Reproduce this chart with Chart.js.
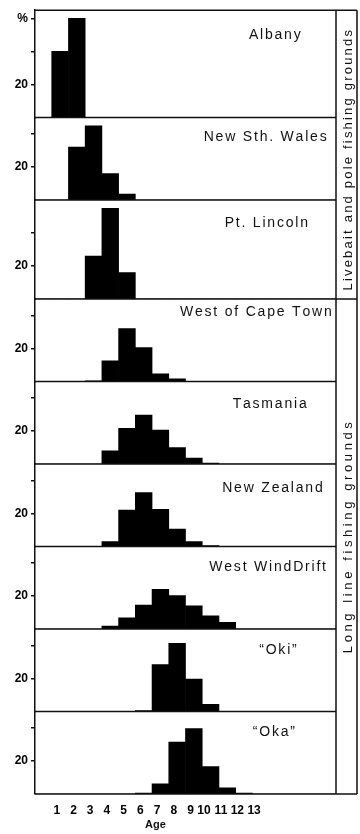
<!DOCTYPE html>
<html>
<head>
<meta charset="utf-8">
<script src="https://cdn.jsdelivr.net/npm/chart.js@4.4.1/dist/chart.umd.min.js"></script>
<style>
html,body{margin:0;padding:0;background:#fff;}
#wrap{position:relative;width:360px;height:834px;}
</style>
</head>
<body>
<div id="wrap"><canvas id="c"></canvas></div>
<script>
// ---- data ----
const ages = [0,1,2,3,4,5,6,7,8,9,10,11,12,13,14,15,16,17];
const xTickLabels = ['','1','2','3','4','5','6','7','8','9','10','11','12','13','','','',''];
const panelNames = ['Albany','New Sth. Wales','Pt. Lincoln','West of Cape Town','Tasmania','New Zealand','West WindDrift','\u201COki\u201D','\u201COka\u201D'];

const albany        = [0,40,60,0,0,0,0,0,0,0,0,0,0,0,0,0,0,0];
const newSthWales   = [0,0,32,45,16,3.5,0,0,0,0,0,0,0,0,0,0,0,0];
const ptLincoln     = [0,0,0,26,55,16,0,0,0,0,0,0,0,0,0,0,0,0];
const westCapeTown  = [0,0,0,0.4,12.5,32,20.5,4.7,1.6,0,0,0,0,0,0,0,0,0];
const tasmania      = [0,0,0,0,8,21.6,29.6,20.6,10,3.6,0.5,0,0,0,0,0,0,0];
const newZealand    = [0,0,0,0,3,22,32.7,22.5,10.5,3,0.5,0,0,0,0,0,0,0];
const westWindDrift = [0,0,0,0,1.8,6.8,14.5,24,20.2,14.1,7.9,4,0,0,0,0,0,0];
const oki           = [0,0,0,0,0,0,0.5,28.4,41.3,19.6,4.4,0,0,0,0,0,0,0];
const oka           = [0,0,0,0,0,0,0.5,6.2,31.4,39.6,16.6,3.7,0.5,0,0,0,0,0];

const yMax   = [65,50,60,50,50,50,50,50,50];
const yTicks = [20,40,60];
const yTickText = {20:'20', 60:'%'};

const groupLabels = ['Livebait and pole fishing grounds','Long line fishing grounds'];
const groupLastPanel = [2, 8];

// ---- layout / style (not data) ----
const series = [albany,newSthWales,ptLincoln,westCapeTown,tasmania,newZealand,westWindDrift,oki,oka];
const titleTopGap   = [24, 18.5, 22, 12.3, 22, 23.2, 19.2, 20.1, 20.1];
const titleRightGap = [35.3, 9.3, 28, 4.3, 29.3, 13.3, 10, 39.3, 41];
const groupShift    = [5.7, -8.8];
const groupSpacing  = [2.2, 3.6];
const FONT = '"Liberation Sans", Arial, Helvetica, sans-serif';
const INK = '#111';
const BAND = 21;

function spacedWidth(ctx, text, sp){
  const chars=[...text]; let w=0;
  for(const ch of chars) w+=ctx.measureText(ch).width;
  return w + sp*(chars.length-1);
}
function drawSpaced(ctx, text, x, y, sp){
  for(const ch of [...text]){ ctx.fillText(ch,x,y); x+=ctx.measureText(ch).width+sp; }
}

const ids = series.map((_,i)=>'y'+i);
const scales = {
  x: {
    type:'category',
    labels: ages.map(String),
    offset: true,
    grid: {display:false, drawTicks:false},
    border: {display:false},
    ticks: {
      autoSkip:false, maxRotation:0, minRotation:0, padding:9, align:'end',
      color:'#000', font:{family:FONT, size:12, weight:'bold'},
      callback:(v,i)=>xTickLabels[i]
    },
    afterFit: s => { s.height = 40; }
  }
};
ids.forEach((id,i)=>{
  scales[id] = {
    type:'linear', position:'left', stack:'panels', stackWeight:yMax[i], weight: ids.length - i,
    min:0, max:yMax[i],
    afterBuildTicks: s => { s.ticks = yTicks.filter(v=>v<yMax[i]).map(v=>({value:v})); },
    ticks: {
      padding:3, color:'#000', font:{family:FONT, size:12, weight:'bold'},
      callback: v => (yTickText[v] || '')
    },
    grid: {drawOnChartArea:false, drawTicks:true, tickLength:4, color:INK, lineWidth:1.5},
    border: {display:true, color:INK, width:1.5},
    afterFit: s => { s.width = 35; }
  };
});

const framePlugin = {
  id:'frame',
  afterDraw(chart){
    const {ctx, chartArea:a} = chart;
    const ys = ids.map(id=>chart.scales[id]);
    const bandRight = a.right + BAND;
    ctx.save();
    ctx.strokeStyle = INK; ctx.lineWidth = 1.5;
    ctx.beginPath();
    ctx.moveTo(a.left, a.top); ctx.lineTo(bandRight, a.top);
    ys.forEach((s,i)=>{
      const end = groupLastPanel.includes(i) ? bandRight : a.right;
      ctx.moveTo(a.left, s.bottom); ctx.lineTo(end, s.bottom);
    });
    ctx.moveTo(a.right, a.top); ctx.lineTo(a.right, a.bottom);
    ctx.moveTo(bandRight, a.top); ctx.lineTo(bandRight, a.bottom);
    ctx.stroke();

    // panel titles
    ctx.fillStyle = INK;
    ctx.font = '14px ' + FONT;
    ctx.textBaseline = 'middle'; ctx.textAlign = 'left';
    ys.forEach((s,i)=>{
      const sp = 1.8;
      const w = spacedWidth(ctx, panelNames[i], sp);
      drawSpaced(ctx, panelNames[i], a.right - titleRightGap[i] - w, s.top + titleTopGap[i] + 1, sp);
    });

    // group labels in the band
    ctx.font = '13px ' + FONT;
    let start = a.top;
    groupLastPanel.forEach((last,g)=>{
      const end = ys[last].bottom;
      const cy = (start + end)/2 + groupShift[g];
      const cx = a.right + BAND/2 + 1.5;
      const sp = groupSpacing[g];
      const w = spacedWidth(ctx, groupLabels[g], sp);
      ctx.save();
      ctx.translate(cx, cy); ctx.rotate(-Math.PI/2);
      drawSpaced(ctx, groupLabels[g], -w/2, 0, sp);
      ctx.restore();
      start = end;
    });

    // axis title
    const xs = chart.scales.x;
    ctx.font = 'bold 11px ' + FONT;
    ctx.textAlign = 'center';
    const p1 = xs.getPixelForValue(ages.indexOf(1));
    const p13 = xs.getPixelForValue(ages.indexOf(13));
    ctx.fillText('Age', (p1+p13)/2 - 5, xs.top + 31);
    ctx.restore();
  }
};

new Chart(document.getElementById('c'), {
  type:'bar',
  data:{
    labels: ages.map(String),
    datasets: series.map((d,i)=>({
      label: panelNames[i], data:d, yAxisID:ids[i],
      backgroundColor:'#000', borderWidth:0,
      barPercentage:1, categoryPercentage:1, grouped:false
    }))
  },
  options:{
    responsive:true, maintainAspectRatio:false, animation:false,
    layout:{padding:{top:5, right:24, bottom:0, left:0}},
    plugins:{legend:{display:false}, tooltip:{enabled:false}, title:{display:false}},
    scales
  },
  plugins:[framePlugin]
});
</script>
</body>
</html>
